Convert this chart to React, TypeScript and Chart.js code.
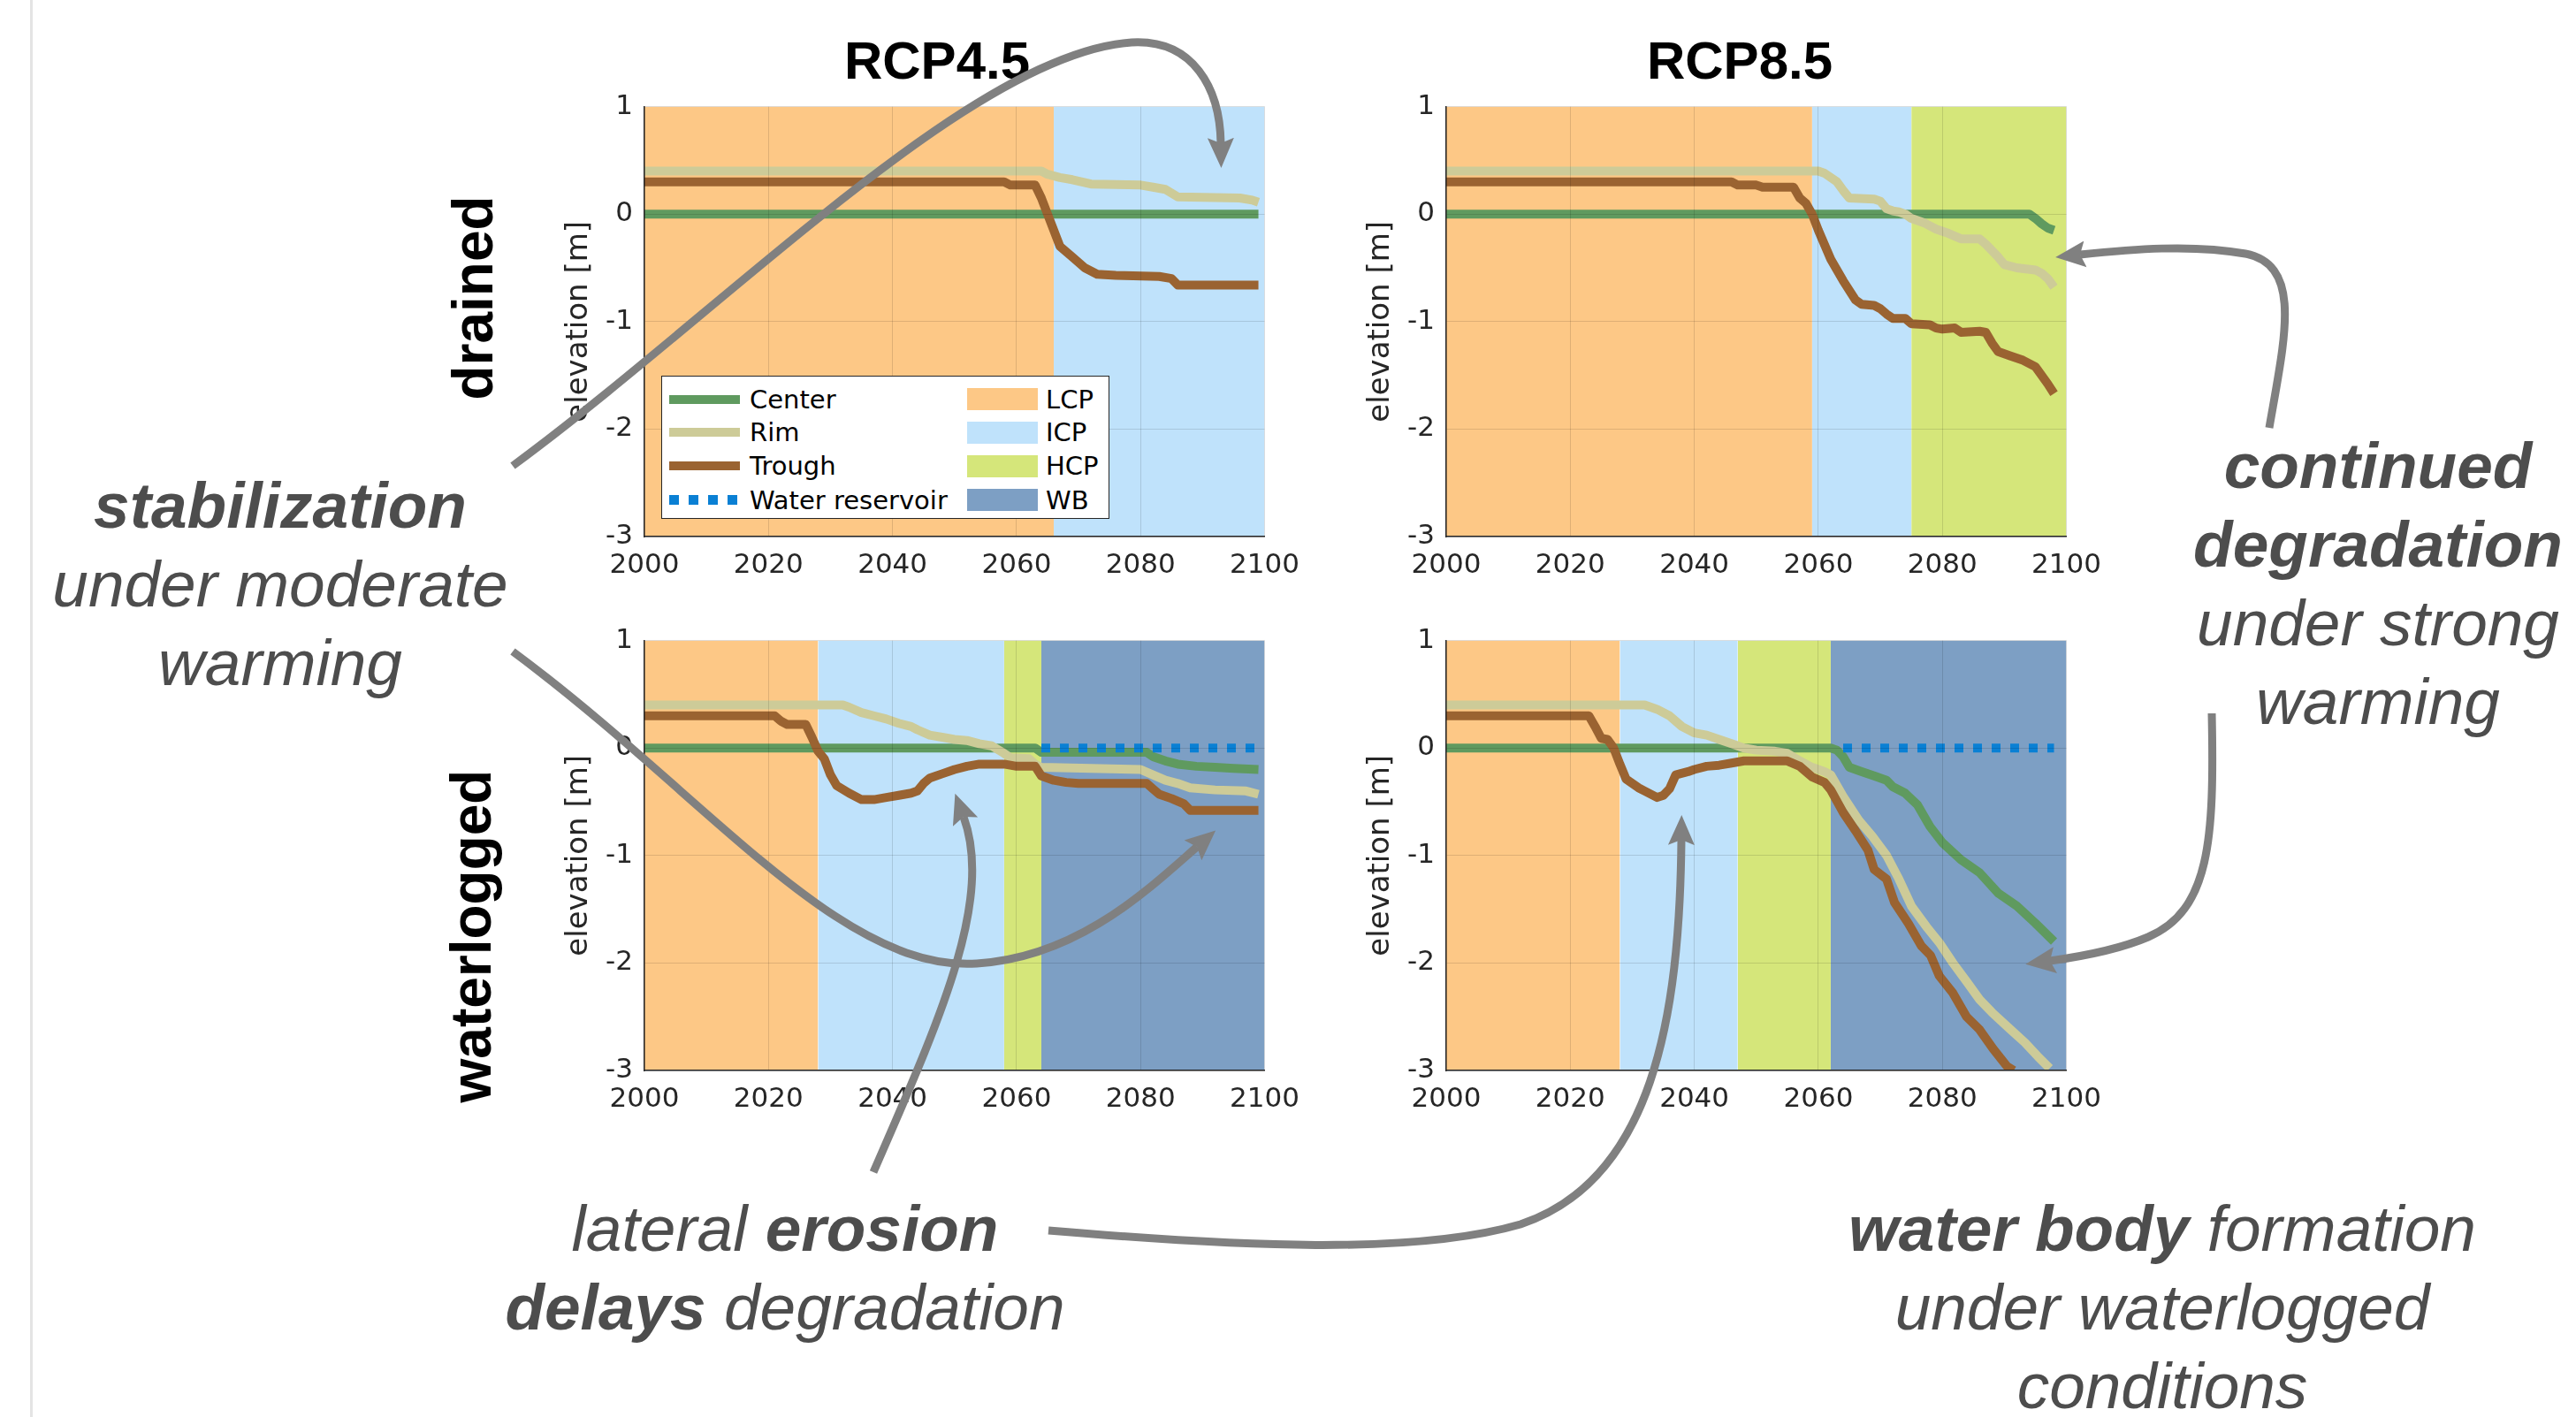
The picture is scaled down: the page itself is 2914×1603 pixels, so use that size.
import React, { useEffect, useRef } from 'react';
import { Chart, registerables } from 'chart.js';

Chart.register(...registerables);

type Pt = [number, number];
type Zone = [number, number, number];

// ---------------- data ----------------
const xTickValues = [2000, 2020, 2040, 2060, 2080, 2100];
const yTickValues = [-3, -2, -1, 0, 1];
const seriesNames = ['Center', 'Rim', 'Trough', 'Water reservoir'];
const seriesColors = ['#5f9a5f', '#cdcb98', '#9a6331', '#0a80d4'];
const zoneNames = ['LCP', 'ICP', 'HCP', 'WB'];
const zoneColors = ['#fdc886', '#bfe2fb', '#d5e67a', '#7d9fc4'];
const columnTitles = ['RCP4.5', 'RCP8.5'];
const rowTitles = ['drained', 'waterlogged'];
const yAxisLabel = 'elevation [m]';

// zones: [zone index, start year, end year]
const zonesDrained45: Zone[] = [[0, 2000, 2066], [1, 2066, 2100]];
const zonesDrained85: Zone[] = [[0, 2000, 2059], [1, 2059, 2075], [2, 2075, 2100]];
const zonesWater45: Zone[] = [[0, 2000, 2028], [1, 2028, 2058], [2, 2058, 2064], [3, 2064, 2100]];
const zonesWater85: Zone[] = [[0, 2000, 2028], [1, 2028, 2047], [2, 2047, 2062], [3, 2062, 2100]];

// RCP4.5 drained
const centerDrained45: Pt[] = [[2000, 0], [2099, 0]];
const rimDrained45: Pt[] = [[2000, 0.4], [2064, 0.4], [2065, 0.37], [2067, 0.34], [2069, 0.32], [2072, 0.28], [2080, 0.27], [2082, 0.25], [2084, 0.23], [2086, 0.16], [2096, 0.15], [2098, 0.13], [2099, 0.11]];
const troughDrained45: Pt[] = [[2000, 0.3], [2058, 0.3], [2059, 0.27], [2063, 0.27], [2064, 0.15], [2065, 0.0], [2066, -0.15], [2067, -0.3], [2069, -0.4], [2071, -0.5], [2073, -0.56], [2076, -0.57], [2083, -0.58], [2085, -0.6], [2086, -0.66], [2099, -0.66]];

// RCP8.5 drained
const centerDrained85: Pt[] = [[2000, 0], [2094, 0], [2095, -0.04], [2096, -0.09], [2097, -0.13], [2098, -0.15]];
const rimDrained85: Pt[] = [[2000, 0.4], [2060, 0.4], [2061, 0.38], [2063, 0.3], [2064, 0.22], [2065, 0.15], [2069, 0.14], [2070, 0.12], [2071, 0.05], [2072, 0.03], [2073, 0.02], [2074, 0.0], [2075, -0.04], [2077, -0.08], [2079, -0.14], [2081, -0.18], [2083, -0.23], [2086, -0.23], [2087, -0.28], [2089, -0.4], [2090, -0.47], [2092, -0.5], [2095, -0.52], [2096, -0.55], [2097, -0.6], [2098, -0.68]];
const troughDrained85: Pt[] = [[2000, 0.3], [2046, 0.3], [2047, 0.27], [2050, 0.27], [2051, 0.25], [2056, 0.25], [2057, 0.15], [2058, 0.1], [2059, 0.0], [2060, -0.15], [2062, -0.42], [2064, -0.62], [2066, -0.8], [2067, -0.84], [2069, -0.85], [2070, -0.88], [2071, -0.93], [2072, -0.97], [2074, -0.97], [2075, -1.02], [2078, -1.03], [2079, -1.06], [2080, -1.07], [2082, -1.06], [2083, -1.1], [2086, -1.09], [2087, -1.1], [2088, -1.2], [2089, -1.28], [2091, -1.32], [2093, -1.36], [2095, -1.42], [2096, -1.5], [2097, -1.58], [2098, -1.67]];

// RCP4.5 waterlogged
const centerWater45: Pt[] = [[2000, 0], [2063, 0], [2064, -0.04], [2081, -0.04], [2082, -0.08], [2084, -0.12], [2086, -0.15], [2089, -0.17], [2092, -0.18], [2095, -0.19], [2099, -0.2]];
const rimWater45: Pt[] = [[2000, 0.4], [2032, 0.4], [2033, 0.38], [2035, 0.33], [2037, 0.3], [2039, 0.27], [2041, 0.23], [2043, 0.2], [2044, 0.17], [2046, 0.12], [2048, 0.1], [2050, 0.08], [2052, 0.07], [2054, 0.04], [2056, 0.02], [2058, -0.05], [2059, -0.09], [2062, -0.1], [2063, -0.15], [2064, -0.18], [2080, -0.2], [2082, -0.25], [2084, -0.3], [2086, -0.33], [2088, -0.37], [2092, -0.39], [2097, -0.4], [2099, -0.43]];
const troughWater45: Pt[] = [[2000, 0.3], [2021, 0.3], [2022, 0.25], [2023, 0.22], [2026, 0.22], [2027, 0.1], [2028, -0.03], [2029, -0.1], [2030, -0.25], [2031, -0.35], [2033, -0.42], [2035, -0.48], [2037, -0.48], [2039, -0.46], [2041, -0.44], [2043, -0.42], [2044, -0.4], [2045, -0.33], [2046, -0.28], [2048, -0.24], [2050, -0.2], [2052, -0.17], [2054, -0.15], [2058, -0.15], [2060, -0.17], [2063, -0.17], [2064, -0.26], [2066, -0.3], [2068, -0.32], [2070, -0.33], [2081, -0.33], [2082, -0.38], [2083, -0.43], [2085, -0.47], [2087, -0.52], [2088, -0.58], [2099, -0.58]];
const reservoirWater45: Pt[] = [[2064, 0], [2099, 0]];

// RCP8.5 waterlogged
const centerWater85: Pt[] = [[2000, 0], [2062, 0], [2063, -0.02], [2064, -0.08], [2065, -0.18], [2067, -0.22], [2069, -0.26], [2071, -0.3], [2072, -0.36], [2074, -0.42], [2076, -0.53], [2078, -0.73], [2080, -0.88], [2083, -1.04], [2086, -1.16], [2089, -1.35], [2092, -1.47], [2095, -1.63], [2098, -1.8]];
const rimWater85: Pt[] = [[2000, 0.4], [2032, 0.4], [2034, 0.36], [2036, 0.3], [2038, 0.2], [2040, 0.14], [2042, 0.12], [2044, 0.08], [2046, 0.04], [2048, 0.0], [2050, -0.02], [2053, -0.03], [2055, -0.05], [2057, -0.12], [2059, -0.18], [2061, -0.22], [2062, -0.25], [2064, -0.45], [2066.5, -0.67], [2068.7, -0.82], [2071, -1.0], [2073, -1.22], [2075, -1.47], [2077.4, -1.66], [2079.5, -1.81], [2081.7, -2.0], [2084, -2.18], [2086, -2.34], [2088, -2.46], [2091, -2.62], [2093.3, -2.74], [2095.4, -2.87], [2097.3, -2.98]];
const troughWater85: Pt[] = [[2000, 0.3], [2023, 0.3], [2024, 0.2], [2025, 0.09], [2026, 0.08], [2027, 0.0], [2028, -0.15], [2029, -0.29], [2031, -0.37], [2032, -0.4], [2034, -0.46], [2035, -0.44], [2036, -0.38], [2037, -0.25], [2039, -0.22], [2040, -0.2], [2042, -0.17], [2044, -0.16], [2046, -0.14], [2048, -0.12], [2055, -0.12], [2057, -0.17], [2059, -0.27], [2061, -0.32], [2062, -0.39], [2064, -0.6], [2066, -0.77], [2068, -0.95], [2069, -1.13], [2071, -1.22], [2072.3, -1.44], [2074.5, -1.63], [2076.6, -1.84], [2078.1, -1.93], [2079.5, -2.12], [2081.7, -2.28], [2083.9, -2.5], [2086, -2.62], [2088.2, -2.8], [2090.4, -2.96], [2091.5, -3.0]];
const reservoirWater85: Pt[] = [[2064, 0], [2098, 0]];

// ---------------- layout ----------------
const PLOT_W = 705;
const PLOT_H = 493;
const AX_W = 100;
const AX_H = 60;
const PAD_T = 25;
const PAD_R = 50;
const COL_X = [729, 1636];
const ROW_Y = [114, 718];

const TICK_FONT = { family: '"DejaVu Sans", sans-serif', size: 31 };
const TEXT_COLOR = '#262626';

interface PanelProps {
  col: number;
  row: number;
  zones: Zone[];
  center: Pt[];
  rim: Pt[];
  trough: Pt[];
  reservoir?: Pt[];
}

function Panel({ col, row, zones, center, rim, trough, reservoir }: PanelProps) {
  const ref = useRef<HTMLCanvasElement>(null);
  const W = AX_W + PLOT_W + PAD_R;
  const H = PAD_T + PLOT_H + AX_H;
  useEffect(() => {
    const toXY = (p: Pt[]) => p.map(([x, y]) => ({ x, y }));
    const lines: any[] = [];
    const series: (Pt[] | undefined)[] = [center, rim, trough, reservoir];
    series.forEach((s, i) => {
      if (!s) return;
      const isRes = i === 3;
      lines.push({
        label: seriesNames[i],
        data: toXY(s),
        borderColor: seriesColors[i],
        backgroundColor: seriesColors[i],
        borderWidth: 10,
        borderDash: isRes ? [10, 11] : [],
        borderCapStyle: 'butt',
        borderJoinStyle: isRes ? 'miter' : 'round',
        pointRadius: 0,
        fill: false,
        tension: 0,
        order: 4 - i,
      });
    });
    const top = yTickValues[yTickValues.length - 1];
    const zoneSets = zones.map(([zi, s, e]) => ({
      label: zoneNames[zi],
      data: [{ x: s, y: top }, { x: e, y: top }],
      borderColor: 'rgba(0,0,0,0)',
      borderWidth: 0,
      backgroundColor: zoneColors[zi],
      fill: 'start',
      pointRadius: 0,
      order: 10,
    }));
    const gridOpts = { color: 'rgba(0,0,0,0.12)', lineWidth: 1, drawTicks: false, z: 1 };
    const borderOpts = { display: true, color: TEXT_COLOR, width: 1.5, z: 2 };
    const chart = new Chart(ref.current!, {
      type: 'line',
      data: { datasets: [...lines, ...zoneSets] },
      options: {
        animation: false,
        responsive: false,
        events: [],
        layout: { padding: { top: PAD_T, right: PAD_R, left: 0, bottom: 0 } },
        plugins: { legend: { display: false }, tooltip: { enabled: false } },
        scales: {
          x: {
            type: 'linear',
            min: xTickValues[0],
            max: xTickValues[xTickValues.length - 1],
            afterFit: (s: any) => { s.height = AX_H; },
            afterBuildTicks: (s: any) => { s.ticks = xTickValues.map((v) => ({ value: v })); },
            ticks: { color: TEXT_COLOR, font: TICK_FONT, padding: 14, maxRotation: 0, autoSkip: false, callback: (v: any) => String(v) },
            grid: gridOpts,
            border: borderOpts,
          },
          y: {
            type: 'linear',
            min: yTickValues[0],
            max: top,
            afterFit: (s: any) => { s.width = AX_W; },
            afterBuildTicks: (s: any) => { s.ticks = yTickValues.map((v) => ({ value: v })); },
            ticks: { color: TEXT_COLOR, font: TICK_FONT, padding: 13, autoSkip: false, callback: (v: any) => String(v) },
            grid: gridOpts,
            border: borderOpts,
            title: {
              display: true,
              text: yAxisLabel,
              color: TEXT_COLOR,
              font: { family: '"DejaVu Sans", sans-serif', size: 34 },
              padding: { top: 6, bottom: 0 },
            },
          },
        },
      } as any,
    });
    return () => chart.destroy();
  }, []);
  return (
    <canvas
      ref={ref}
      width={W}
      height={H}
      style={{ position: 'absolute', left: COL_X[col] - AX_W, top: ROW_Y[row] - PAD_T, width: W, height: H }}
    />
  );
}

function Legend() {
  const left = 748;
  const top = 425;
  const rowsY = [25.6, 63, 101, 139.5];
  return (
    <div
      style={{
        position: 'absolute', left, top, width: 507, height: 162, background: '#ffffff',
        border: '1.5px solid #262626', boxSizing: 'border-box',
        fontFamily: '"DejaVu Sans", sans-serif', fontSize: 29, color: '#000',
      }}
    >
      {seriesNames.map((n, i) => (
        <React.Fragment key={n}>
          {i < 3 ? (
            <div style={{ position: 'absolute', left: 8, top: rowsY[i] - 5, width: 80, height: 10, background: seriesColors[i] }} />
          ) : (
            [0, 1, 2, 3].map((k) => (
              <div key={k} style={{ position: 'absolute', left: 8 + k * 22, top: rowsY[i] - 5.5, width: 11, height: 11, background: seriesColors[i] }} />
            ))
          )}
          <div style={{ position: 'absolute', left: 99, top: rowsY[i] - 17, height: 34, lineHeight: '34px', whiteSpace: 'nowrap' }}>{n}</div>
        </React.Fragment>
      ))}
      {zoneNames.map((n, i) => (
        <React.Fragment key={n}>
          <div style={{ position: 'absolute', left: 345, top: rowsY[i] - 12.5, width: 80, height: 25, background: zoneColors[i] }} />
          <div style={{ position: 'absolute', left: 434, top: rowsY[i] - 17, height: 34, lineHeight: '34px', whiteSpace: 'nowrap' }}>{n}</div>
        </React.Fragment>
      ))}
    </div>
  );
}

const NOTE_STYLE: React.CSSProperties = {
  position: 'absolute', width: 900, textAlign: 'center',
  fontFamily: '"Liberation Sans", Arial, sans-serif', fontStyle: 'italic', fontSize: 73,
  lineHeight: '89px', color: '#4d4d4d', whiteSpace: 'nowrap',
};

function Note({ cx, top, children }: { cx: number; top: number; children: React.ReactNode }) {
  return <div style={{ ...NOTE_STYLE, left: cx - 450, top }}>{children}</div>;
}

function Arrows() {
  const paths = [
    'M580,527 C820,350 1100,60 1280,48 C1350,44 1380,100 1381,162',
    'M580,737 C800,900 950,1100 1105,1090 C1220,1083 1300,1005 1354,958',
    'M988,1326 C1060,1160 1125,1020 1090,924',
    'M1186,1392 C1400,1410 1600,1420 1720,1385 C1870,1335 1900,1150 1902,950',
    'M2567,484 C2585,380 2605,300 2540,287 C2480,276 2410,282 2353,288',
    'M2502,807 C2505,950 2500,1030 2430,1060 C2395,1075 2355,1082 2319,1087',
  ];
  return (
    <svg width={2914} height={1603} style={{ position: 'absolute', left: 0, top: 0, pointerEvents: 'none' }}>
      <defs>
        <marker id="head" markerUnits="userSpaceOnUse" markerWidth={36} markerHeight={32} viewBox="0 0 36 32" refX={6} refY={16} orient="auto">
          <path d="M0,1 L34,16 L0,31 L6,16 z" fill="#808080" />
        </marker>
      </defs>
      {paths.map((d, i) => (
        <path key={i} d={d} fill="none" stroke="#808080" strokeWidth={9} markerEnd="url(#head)" />
      ))}
    </svg>
  );
}

export default function App() {
  const titleStyle: React.CSSProperties = {
    position: 'absolute', width: 400, textAlign: 'center', top: 39,
    fontFamily: '"Liberation Sans", Arial, sans-serif', fontWeight: 700, fontSize: 60, lineHeight: '60px', color: '#000',
  };
  const rowStyle: React.CSSProperties = {
    position: 'absolute', transform: 'translate(-50%,-50%) rotate(-90deg)', whiteSpace: 'nowrap',
    fontFamily: '"Liberation Sans", Arial, sans-serif', fontWeight: 700, fontSize: 64, lineHeight: '64px', color: '#000',
  };
  return (
    <div style={{ position: 'absolute', left: 0, top: 0, width: 2914, height: 1603, overflow: 'hidden', background: '#fff' }}>
      <div style={{ position: 'absolute', left: 34, top: 0, width: 3, height: 1603, background: '#e4e4e4' }} />
      <Panel col={0} row={0} zones={zonesDrained45} center={centerDrained45} rim={rimDrained45} trough={troughDrained45} />
      <Panel col={1} row={0} zones={zonesDrained85} center={centerDrained85} rim={rimDrained85} trough={troughDrained85} />
      <Panel col={0} row={1} zones={zonesWater45} center={centerWater45} rim={rimWater45} trough={troughWater45} reservoir={reservoirWater45} />
      <Panel col={1} row={1} zones={zonesWater85} center={centerWater85} rim={rimWater85} trough={troughWater85} reservoir={reservoirWater85} />
      <Legend />
      <div style={{ ...titleStyle, left: 1060 - 200 }}>{columnTitles[0]}</div>
      <div style={{ ...titleStyle, left: 1968 - 200 }}>{columnTitles[1]}</div>
      <div style={{ ...rowStyle, left: 535, top: 337 }}>{rowTitles[0]}</div>
      <div style={{ ...rowStyle, left: 533, top: 1059 }}>{rowTitles[1]}</div>
      <Note cx={317} top={527}>
        <div><b>stabilization</b></div>
        <div>under moderate</div>
        <div>warming</div>
      </Note>
      <Note cx={2690} top={482}>
        <div><b>continued</b></div>
        <div><b>degradation</b></div>
        <div>under strong</div>
        <div>warming</div>
      </Note>
      <Note cx={888} top={1345}>
        <div>lateral <b>erosion</b></div>
        <div><b>delays</b> degradation</div>
      </Note>
      <Note cx={2446} top={1345}>
        <div><b>water body</b> formation</div>
        <div>under waterlogged</div>
        <div>conditions</div>
      </Note>
      <Arrows />
    </div>
  );
}
